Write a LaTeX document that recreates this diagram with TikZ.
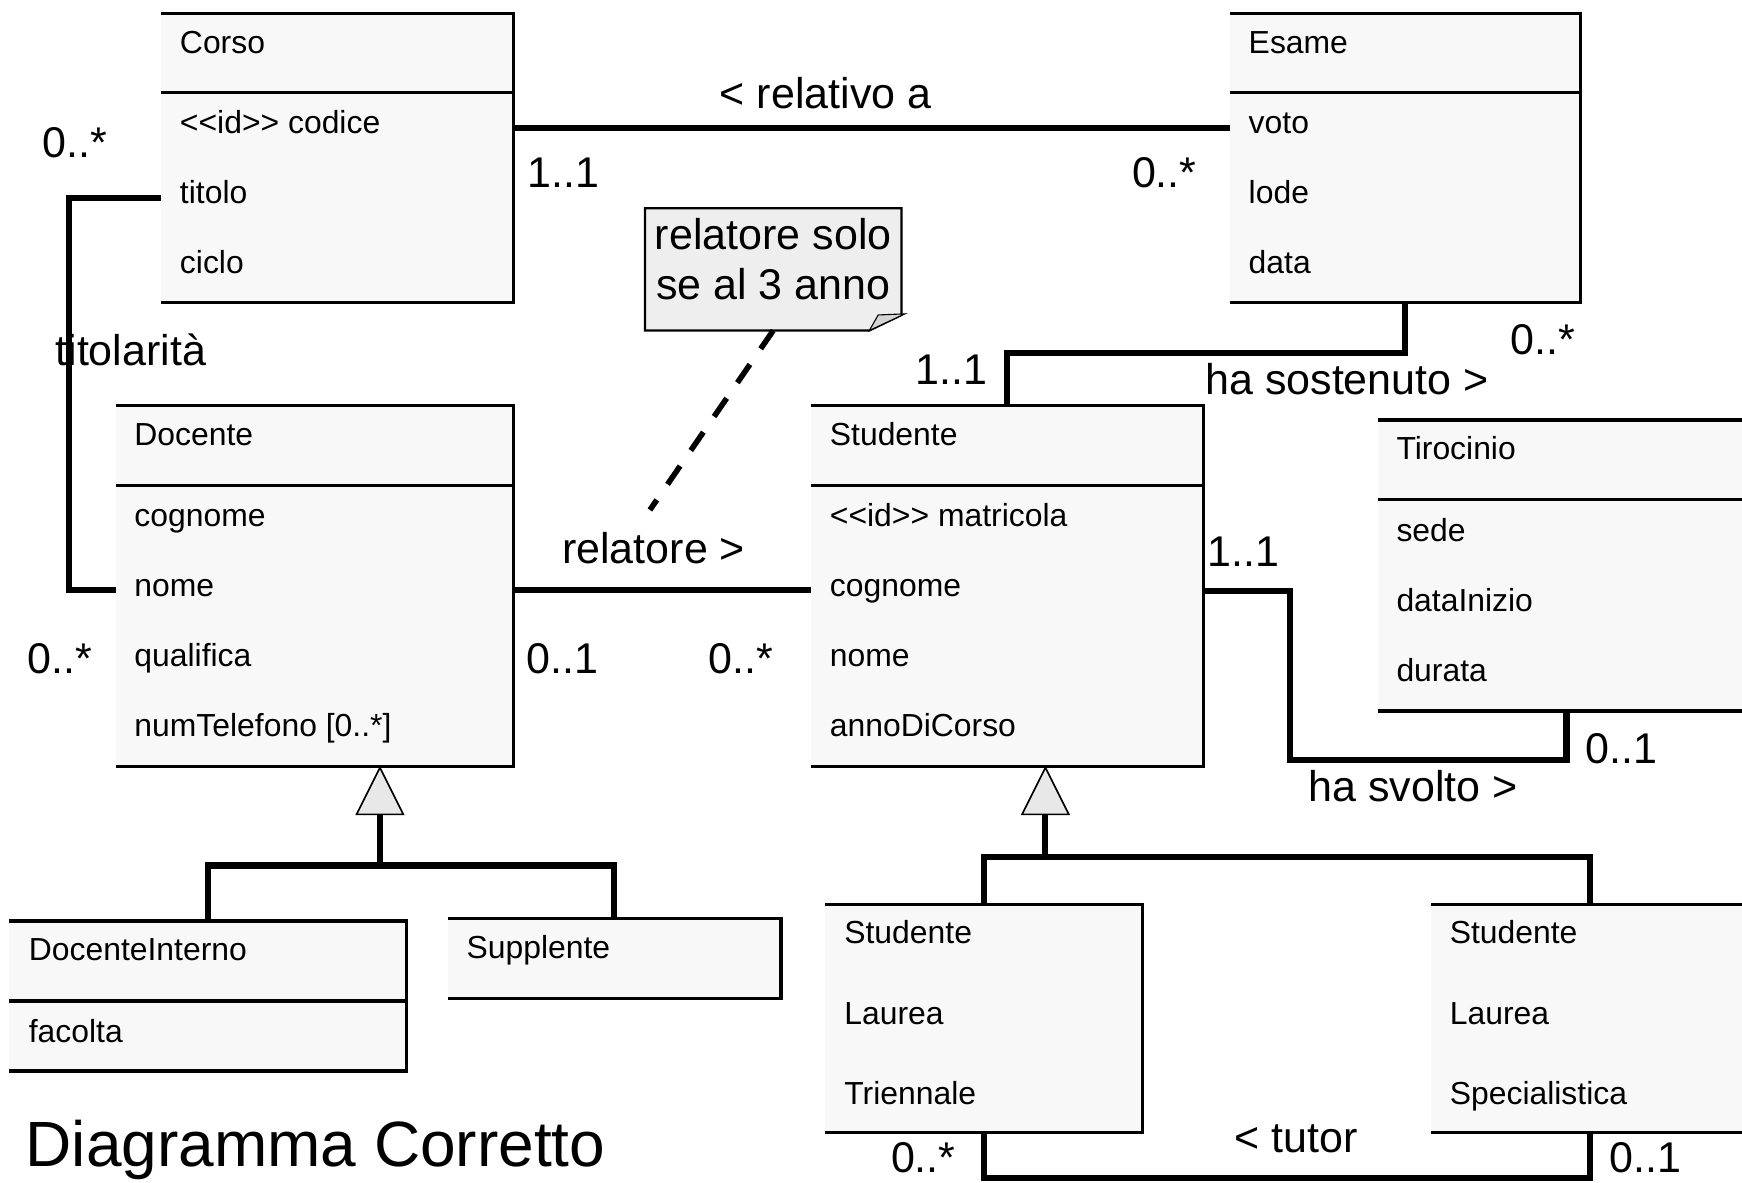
\documentclass[tikz,border=0pt]{standalone}
\usepackage{fontspec}
\setmainfont{Liberation Sans}
\newcommand\umlattrfont{\fontsize{28.7}{34}\selectfont}
\newcommand\umllabelfont{\fontsize{38.7}{46}\selectfont}
\newcommand\umltitlefont{\fontsize{57.6}{68}\selectfont}
\definecolor{boxfill}{HTML}{F8F8F8}
\definecolor{notefill}{HTML}{EEEEEE}
\definecolor{foldfill}{HTML}{D4D4D4}
\definecolor{triafill}{HTML}{E8E8E8}
% open-left class box outline and compartment separator
\newcommand\drawumlbox[1]{\draw[boxline] (#1.north west) -- (#1.north east) -- (#1.south east) -- (#1.south west);}
\newcommand\drawumlsep[2]{\draw[boxline] ([yshift=-#2pt]#1.north west) -- ([yshift=-#2pt]#1.north east);}
\begin{document}
\begin{tikzpicture}[x=1pt,y=-1pt,
  classbox/.style={rectangle, fill=boxfill, draw=none, anchor=north west, inner sep=0pt, outer sep=0pt},
  boxline/.style={line width=2.8pt},
  attr/.style={anchor=base west, inner sep=0pt, outer sep=0pt, font=\umlattrfont},
  lbl/.style={anchor=base west, inner sep=0pt, outer sep=0pt, font=\umllabelfont},
  assoc/.style={line width=5.5pt},
  genhead/.style={draw, line width=1.5pt, fill=triafill, line join=miter},
  noteline/.style={line width=5pt, dash pattern=on 20pt off 17pt},
]
\useasboundingbox (0,0) rectangle (1568,1064);
\fill[white] (0,0) rectangle (1568,1064);

% ---------- classes ----------
\node[classbox, minimum width=317pt, minimum height=260pt] (corso) at (145,12) {};
\node[classbox, minimum width=316pt, minimum height=260pt] (esame) at (1107,12) {};
\node[classbox, minimum width=358pt, minimum height=325pt] (docente) at (104,365) {};
\node[classbox, minimum width=353pt, minimum height=325pt] (studente) at (730,365) {};
\node[classbox, minimum width=340pt, minimum height=262pt] (tirocinio) at (1240,378) {};
\node[classbox, minimum width=358pt, minimum height=135pt] (docinterno) at (8,829) {};
\node[classbox, minimum width=300pt, minimum height=72pt] (supplente) at (403,827) {};
\node[classbox, minimum width=285pt, minimum height=205pt] (triennale) at (743,814) {};
\node[classbox, minimum width=286pt, minimum height=205pt] (specialistica) at (1288,814) {};

\drawumlbox{corso}\drawumlsep{corso}{71}
\drawumlbox{esame}\drawumlsep{esame}{71}
\drawumlbox{docente}\drawumlsep{docente}{72}
\drawumlbox{studente}\drawumlsep{studente}{72}
\drawumlbox{tirocinio}\drawumlsep{tirocinio}{72}
\drawumlbox{docinterno}\drawumlsep{docinterno}{72}
\drawumlbox{supplente}
\drawumlbox{triennale}
\drawumlbox{specialistica}

% Corso
\node[attr] (corso-n) at ([xshift=17pt,yshift=-36pt]corso.north west) {Corso};
\node[attr] (corso-a1) at ([xshift=17pt,yshift=-108pt]corso.north west) {<\kern0pt<id>\kern0pt> codice};
\node[attr] (corso-a2) at ([xshift=17pt,yshift=-171pt]corso.north west) {titolo};
\node[attr] (corso-a3) at ([xshift=17pt,yshift=-234pt]corso.north west) {ciclo};
% Esame
\node[attr] (esame-n) at ([xshift=17pt,yshift=-36pt]esame.north west) {Esame};
\node[attr] (esame-a1) at ([xshift=17pt,yshift=-108pt]esame.north west) {voto};
\node[attr] (esame-a2) at ([xshift=17pt,yshift=-171pt]esame.north west) {lode};
\node[attr] (esame-a3) at ([xshift=17pt,yshift=-234pt]esame.north west) {data};
% Docente
\node[attr] (docente-n) at ([xshift=17pt,yshift=-36pt]docente.north west) {Docente};
\node[attr] (docente-a1) at ([xshift=17pt,yshift=-109pt]docente.north west) {cognome};
\node[attr] (docente-a2) at ([xshift=17pt,yshift=-172pt]docente.north west) {nome};
\node[attr] (docente-a3) at ([xshift=17pt,yshift=-235pt]docente.north west) {qualifica};
\node[attr] (docente-a4) at ([xshift=17pt,yshift=-298pt]docente.north west) {numTelefono [0..*]};
% Studente
\node[attr] (studente-n) at ([xshift=17pt,yshift=-36pt]studente.north west) {Studente};
\node[attr] (studente-a1) at ([xshift=17pt,yshift=-109pt]studente.north west) {<\kern0pt<id>\kern0pt> matricola};
\node[attr] (studente-a2) at ([xshift=17pt,yshift=-172pt]studente.north west) {cognome};
\node[attr] (studente-a3) at ([xshift=17pt,yshift=-235pt]studente.north west) {nome};
\node[attr] (studente-a4) at ([xshift=17pt,yshift=-298pt]studente.north west) {annoDiCorso};
% Tirocinio
\node[attr] (tirocinio-n) at ([xshift=17pt,yshift=-36pt]tirocinio.north west) {Tirocinio};
\node[attr] (tirocinio-a1) at ([xshift=17pt,yshift=-109pt]tirocinio.north west) {sede};
\node[attr] (tirocinio-a2) at ([xshift=17pt,yshift=-172pt]tirocinio.north west) {dataInizio};
\node[attr] (tirocinio-a3) at ([xshift=17pt,yshift=-235pt]tirocinio.north west) {durata};
% DocenteInterno, Supplente
\node[attr] (docinterno-n) at ([xshift=18pt,yshift=-36pt]docinterno.north west) {DocenteInterno};
\node[attr] (docinterno-a1) at ([xshift=18pt,yshift=-109pt]docinterno.north west) {facolta};
\node[attr] (supplente-n) at ([xshift=17pt,yshift=-36pt]supplente.north west) {Supplente};
% Studente Laurea Triennale / Specialistica
\node[attr] (triennale-l1) at ([xshift=17pt,yshift=-35pt]triennale.north west) {Studente};
\node[attr] (triennale-l2) at ([xshift=17pt,yshift=-108pt]triennale.north west) {Laurea};
\node[attr] (triennale-l3) at ([xshift=17pt,yshift=-180pt]triennale.north west) {Triennale};
\node[attr] (specialistica-l1) at ([xshift=17pt,yshift=-35pt]specialistica.north west) {Studente};
\node[attr] (specialistica-l2) at ([xshift=17pt,yshift=-108pt]specialistica.north west) {Laurea};
\node[attr] (specialistica-l3) at ([xshift=17pt,yshift=-180pt]specialistica.north west) {Specialistica};

% ---------- associations ----------
\draw[assoc] ([yshift=-103pt]corso.north east) -- ([yshift=-103pt]esame.north west);
\draw[assoc] ([yshift=-166pt]corso.north west) -- ++(-83,0) |- ([yshift=-166pt]docente.north west);
\draw[assoc] ([yshift=-166pt]docente.north east) -- ([yshift=-166pt]studente.north west);
\draw[assoc] (esame.south) -- ++(0,46) -| (studente.north);
\draw[assoc] ([yshift=-167pt]studente.north east) -- ++(78,0) |- ([yshift=-44pt]tirocinio.south) -- (tirocinio.south);
\draw[assoc] (triennale.south) -- ++(0,41) -| (specialistica.south);

% ---------- generalizations ----------
\coordinate (docgen) at ([xshift=59pt,yshift=-1pt]docente.south);
\draw[genhead] (docgen) -- ++(-21,42) -- ++(42,0) -- cycle;
\draw[assoc] ([yshift=-42pt]docgen) -- ++(0,46);
\draw[assoc] (docinterno.north) -- ++(0,-50) -| (supplente.north);

\coordinate (stugen) at ([xshift=34.5pt,yshift=-1pt]studente.south);
\draw[genhead] (stugen) -- ++(-21,42) -- ++(42,0) -- cycle;
\draw[assoc] ([yshift=-42pt]stugen) -- ++(0,38);
\draw[assoc] (triennale.north) -- ++(0,-43) -| (specialistica.north);

% ---------- note ----------
\node[rectangle, draw=none, minimum width=231pt, minimum height=110pt, anchor=north west, inner sep=0pt, outer sep=0pt] (note) at (580.5,187.5) {};
\draw[line width=2pt, fill=notefill] (note.north west) -- (note.north east) -- ([yshift=14pt]note.south east)
  -- ([xshift=-29pt]note.south east) -- (note.south west) -- cycle;
\draw[line width=1pt, fill=foldfill] ([xshift=-29pt]note.south east) -- ([xshift=-21pt,yshift=14pt]note.south east)
  -- ([xshift=3pt,yshift=15pt]note.south east) -- cycle;
\node[lbl, anchor=base] (note-l1) at ([yshift=-37.5pt]note.north) {relatore solo};
\node[lbl, anchor=base] (note-l2) at ([yshift=-82.5pt]note.north) {se al 3 anno};
\coordinate (noteend) at (585,459);
\draw[noteline] (note.south) -- (noteend);

% ---------- association labels and multiplicities ----------
\node[lbl] (m-corso-doc) at (38,142) {0..*};
\node[lbl] (m-corso-esame) at (475,169) {1..1};
\node[lbl] (relativo) at (648,98) {< relativo a};
\node[lbl] (m-esame-corso) at (1019,169) {0..*};
\node[lbl] (titolarita) at (50,329) {titolarità};
\node[lbl] (m-stud-esame) at (824,346) {1..1};
\node[lbl] (sostenuto) at (1085,355) {ha sostenuto >};
\node[lbl] (m-esame-stud) at (1360,319) {0..*};
\node[lbl] (relatore) at (506,507) {relatore >};
\node[lbl] (m-stud-tir) at (1087,510) {1..1};
\node[lbl] (m-doc-corso) at (25,606) {0..*};
\node[lbl] (m-doc-stud) at (474,606) {0..1};
\node[lbl] (m-stud-doc) at (638,606) {0..*};
\node[lbl] (m-tir-stud) at (1427,687) {0..1};
\node[lbl] (svolto) at (1178,721) {ha svolto >};
\node[lbl] (tutor) at (1111,1037) {< tutor};
\node[lbl] (m-trienn) at (802,1055) {0..*};
\node[lbl] (m-spec) at (1449,1055) {0..1};

\node[anchor=base west, inner sep=0pt, font=\umltitlefont] (title) at (23,1050) {Diagramma Corretto};
\end{tikzpicture}
\end{document}
